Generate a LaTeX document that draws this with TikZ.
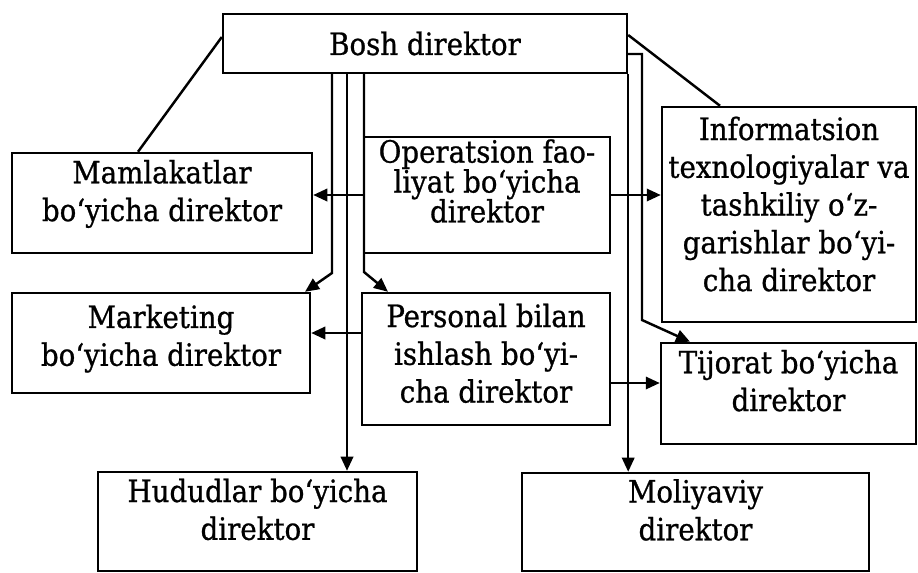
\documentclass[tikz,border=0pt]{standalone}
\usepackage{fontspec}
\setmainfont{DejaVu Serif Condensed}[FakeBold=0.8]
\usetikzlibrary{arrows.meta,calc}

\newcommand\tightfont{\fontsize{17.5}{17}\selectfont\lineskiplimit=-20pt\relax}

\tikzset{
  box/.style={draw, line width=1.4pt, align=center, inner sep=1pt,
    font=\fontsize{17.5}{21.5}\selectfont},
  tight/.style={font=\tightfont},
  conn/.style={line width=1.4pt},
  link/.style={conn, -{Triangle[length=8pt,width=7pt]}},
}

\begin{document}
\begin{tikzpicture}[x=0.02cm, y=-0.02cm]
    \useasboundingbox (0,0) rectangle (918,572);

    % Boxes
    \node[box, minimum width=8.08cm, minimum height=1.18cm] (bosh) at (425,43.5) {Bosh direktor};
    \node[box, minimum width=6cm, minimum height=2cm, text depth=14.2pt] (mamlakat) at (162,203) {Mamlakatlar\\bo‘yicha direktor};
    \node[box, tight, minimum width=4.92cm, minimum height=2.32cm, text depth=16.1pt] (operats) at (487,195) {Operatsion fao-\\liyat bo‘yicha\\direktor};
    \node[box, minimum width=5.08cm, minimum height=4.3cm, text depth=12.1pt] (inform) at (789,214.5) {Informatsion\\texnologiyalar va\\tashkiliy o‘z-\\garishlar bo‘yi-\\cha direktor};
    \node[box, minimum width=5.96cm, minimum height=2cm, text depth=8.9pt] (marketing) at (161,343) {Marketing\\bo‘yicha direktor};
    \node[box, minimum width=4.96cm, minimum height=2.64cm, text depth=6.7pt] (personal) at (486,359) {Personal bilan\\ishlash bo‘yi-\\cha direktor};
    \node[box, minimum width=5.1cm, minimum height=2.02cm, text depth=14.8pt] (tijorat) at (788.5,393.5) {Tijorat bo‘yicha\\direktor};
    \node[box, minimum width=6.38cm, minimum height=1.98cm, text depth=14pt] (hudud) at (257.5,521.5) {Hududlar bo‘yicha\\direktor};
    \node[box, minimum width=6.94cm, minimum height=1.96cm, text depth=14pt] (moliya) at (695.5,522) {Moliyaviy\\direktor};

    % Diagonals from the top box
    \draw[conn] (bosh.west |- 0,37) -- (mamlakat.north -| 138,0);
    \draw[conn] (bosh.east |- 0,35) -- (inform.north -| 720,0);

    % Lines down from the top box
    \draw[link] (bosh.south -| 332,0) -- (332,273) -- (marketing.north -| 305,0);
    \draw[link] (bosh.south -| 347,0) -- (hudud.north -| 347,0);
    \draw[link] (bosh.south -| 364,0) -- (364,272) -- (personal.north -| 388,0);
    \draw[link] (bosh.south east) -- (moliya.north -| bosh.south east);
    \draw[link] (bosh.east |- 0,54) -- (642,54) -- (642,320) -- (tijorat.north -| 690,0);

    % Side arrows
    \draw[link] (operats.west) -- (mamlakat.east |- operats.west);
    \draw[link] (operats.east) -- (inform.west |- operats.east);
    \draw[link] (personal.west |- 0,333) -- (marketing.east |- 0,333);
    \draw[link] (personal.east |- 0,383) -- (tijorat.west |- 0,383);
\end{tikzpicture}
\end{document}
